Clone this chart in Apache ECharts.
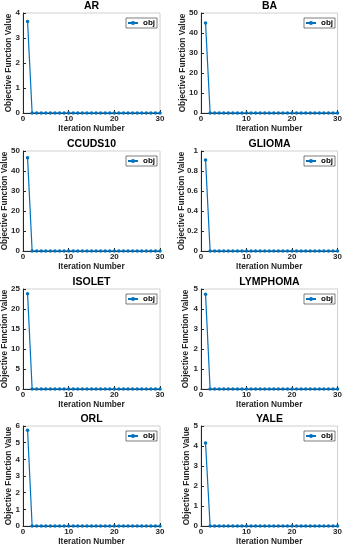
<!DOCTYPE html>
<html><head><meta charset="utf-8">
<script src="https://cdn.jsdelivr.net/npm/echarts@6/dist/echarts.min.js"></script>
<style>html,body{margin:0;padding:0;background:#fff}#c{width:345px;height:550px}</style>
</head><body><div id="c"></div>
<script>
// ---- data ----
const iterations = [1,2,3,4,5,6,7,8,9,10,11,12,13,14,15,16,17,18,19,20,21,22,23,24,25,26,27,28,29,30];
const panelTitles = ['AR','BA','CCUDS10','GLIOMA','ISOLET','LYMPHOMA','ORL','YALE'];
const seriesName = 'obj';
const AR       = [3.66,0,0,0,0,0,0,0,0,0,0,0,0,0,0,0,0,0,0,0,0,0,0,0,0,0,0,0,0,0];
const BA       = [45.0,0,0,0,0,0,0,0,0,0,0,0,0,0,0,0,0,0,0,0,0,0,0,0,0,0,0,0,0,0];
const CCUDS10  = [46.6,0,0,0,0,0,0,0,0,0,0,0,0,0,0,0,0,0,0,0,0,0,0,0,0,0,0,0,0,0];
const GLIOMA   = [0.91,0,0,0,0,0,0,0,0,0,0,0,0,0,0,0,0,0,0,0,0,0,0,0,0,0,0,0,0,0];
const ISOLET   = [23.8,0,0,0,0,0,0,0,0,0,0,0,0,0,0,0,0,0,0,0,0,0,0,0,0,0,0,0,0,0];
const LYMPHOMA = [4.74,0,0,0,0,0,0,0,0,0,0,0,0,0,0,0,0,0,0,0,0,0,0,0,0,0,0,0,0,0];
const ORL      = [5.75,0,0,0,0,0,0,0,0,0,0,0,0,0,0,0,0,0,0,0,0,0,0,0,0,0,0,0,0,0];
const YALE     = [4.15,0,0,0,0,0,0,0,0,0,0,0,0,0,0,0,0,0,0,0,0,0,0,0,0,0,0,0,0,0];
const panelValues = [AR, BA, CCUDS10, GLIOMA, ISOLET, LYMPHOMA, ORL, YALE];
const xMin = 0, xMax = 30, xStep = 10;
const yMaxes = [4, 50, 50, 1, 25, 5, 6, 5];
const ySteps = [1, 10, 10, 0.2, 5, 1, 1, 1];
const xAxisTitle = 'Iteration Number';
const yAxisTitle = 'Objective Function Value';

// ---- layout ----
const W = 345;
const colLeft = [23, 201];
const colRight = [160, 338];
const rowTop = [13, 151, 289, 426];
const plotH = 100;
const yNameGap = [10, 14, 14, 15.5, 14, 11, 10, 10];
const FONT = 'Liberation Sans, Arial, sans-serif';
const BLUE = '#0072BD';
const AX = '#262626';

const option = { animation:false, title:[], grid:[], xAxis:[], yAxis:[], series:[], legend:[] };
panelTitles.forEach((name, i) => {
  const c = i % 2, r = Math.floor(i / 2);
  const L = colLeft[c], R = colRight[c], T = rowTop[r];
  option.grid.push({ left:L, width:R-L, top:T, height:plotH, show:true, borderColor:'#d0d0d0', borderWidth:1, backgroundColor:'#fff' });
  option.title.push({ text:name, left:(L+R)/2, top:T-12, textAlign:'center', padding:0,
    textStyle:{ fontFamily:FONT, fontSize:10.5, fontWeight:'bold', color:'#000' } });
  option.xAxis.push({ type:'value', gridIndex:i, min:xMin, max:xMax, interval:xStep,
    name:xAxisTitle, nameLocation:'middle', nameGap:12, nameMoveOverlap:false,
    nameTextStyle:{ fontFamily:FONT, fontSize:8.3, fontWeight:'bold', color:AX },
    axisLine:{ lineStyle:{ color:AX, width:1 } },
    axisTick:{ inside:true, length:3, lineStyle:{ color:AX } },
    axisLabel:{ fontFamily:FONT, fontSize:8, fontWeight:'bold', color:AX, margin:2 },
    splitLine:{ show:false } });
  option.yAxis.push({ type:'value', gridIndex:i, min:0, max:yMaxes[i], interval:ySteps[i],
    name:yAxisTitle, nameLocation:'middle', nameGap:yNameGap[i], nameMoveOverlap:false,
    nameTextStyle:{ fontFamily:FONT, fontSize:8.3, fontWeight:'bold', color:AX },
    axisLine:{ show:true, lineStyle:{ color:AX, width:1 } },
    axisTick:{ show:true, inside:true, length:3, lineStyle:{ color:AX } },
    axisLabel:{ fontFamily:FONT, fontSize:8, fontWeight:'bold', color:AX, margin:3 },
    splitLine:{ show:false } });
  option.series.push({ type:'line', name:seriesName, xAxisIndex:i, yAxisIndex:i,
    data: iterations.map((x, k) => [x, panelValues[i][k]]),
    symbol:'circle', symbolSize:3.5, showSymbol:true,
    lineStyle:{ color:BLUE, width:1.2 }, itemStyle:{ color:BLUE } });
  option.legend.push({ data:[seriesName], right:W-R+3, top:T+5, orient:'vertical',
    backgroundColor:'#fff', borderColor:'#262626', borderWidth:0.6, padding:[1,2,1,1],
    itemWidth:10, itemHeight:5, itemGap:3, selectedMode:false,
    textStyle:{ fontFamily:FONT, fontSize:8, fontWeight:'bold', color:'#000' } });
});

const chart = echarts.init(document.getElementById('c'), null, { renderer:'canvas' });
chart.setOption(option);
</script></body></html>
